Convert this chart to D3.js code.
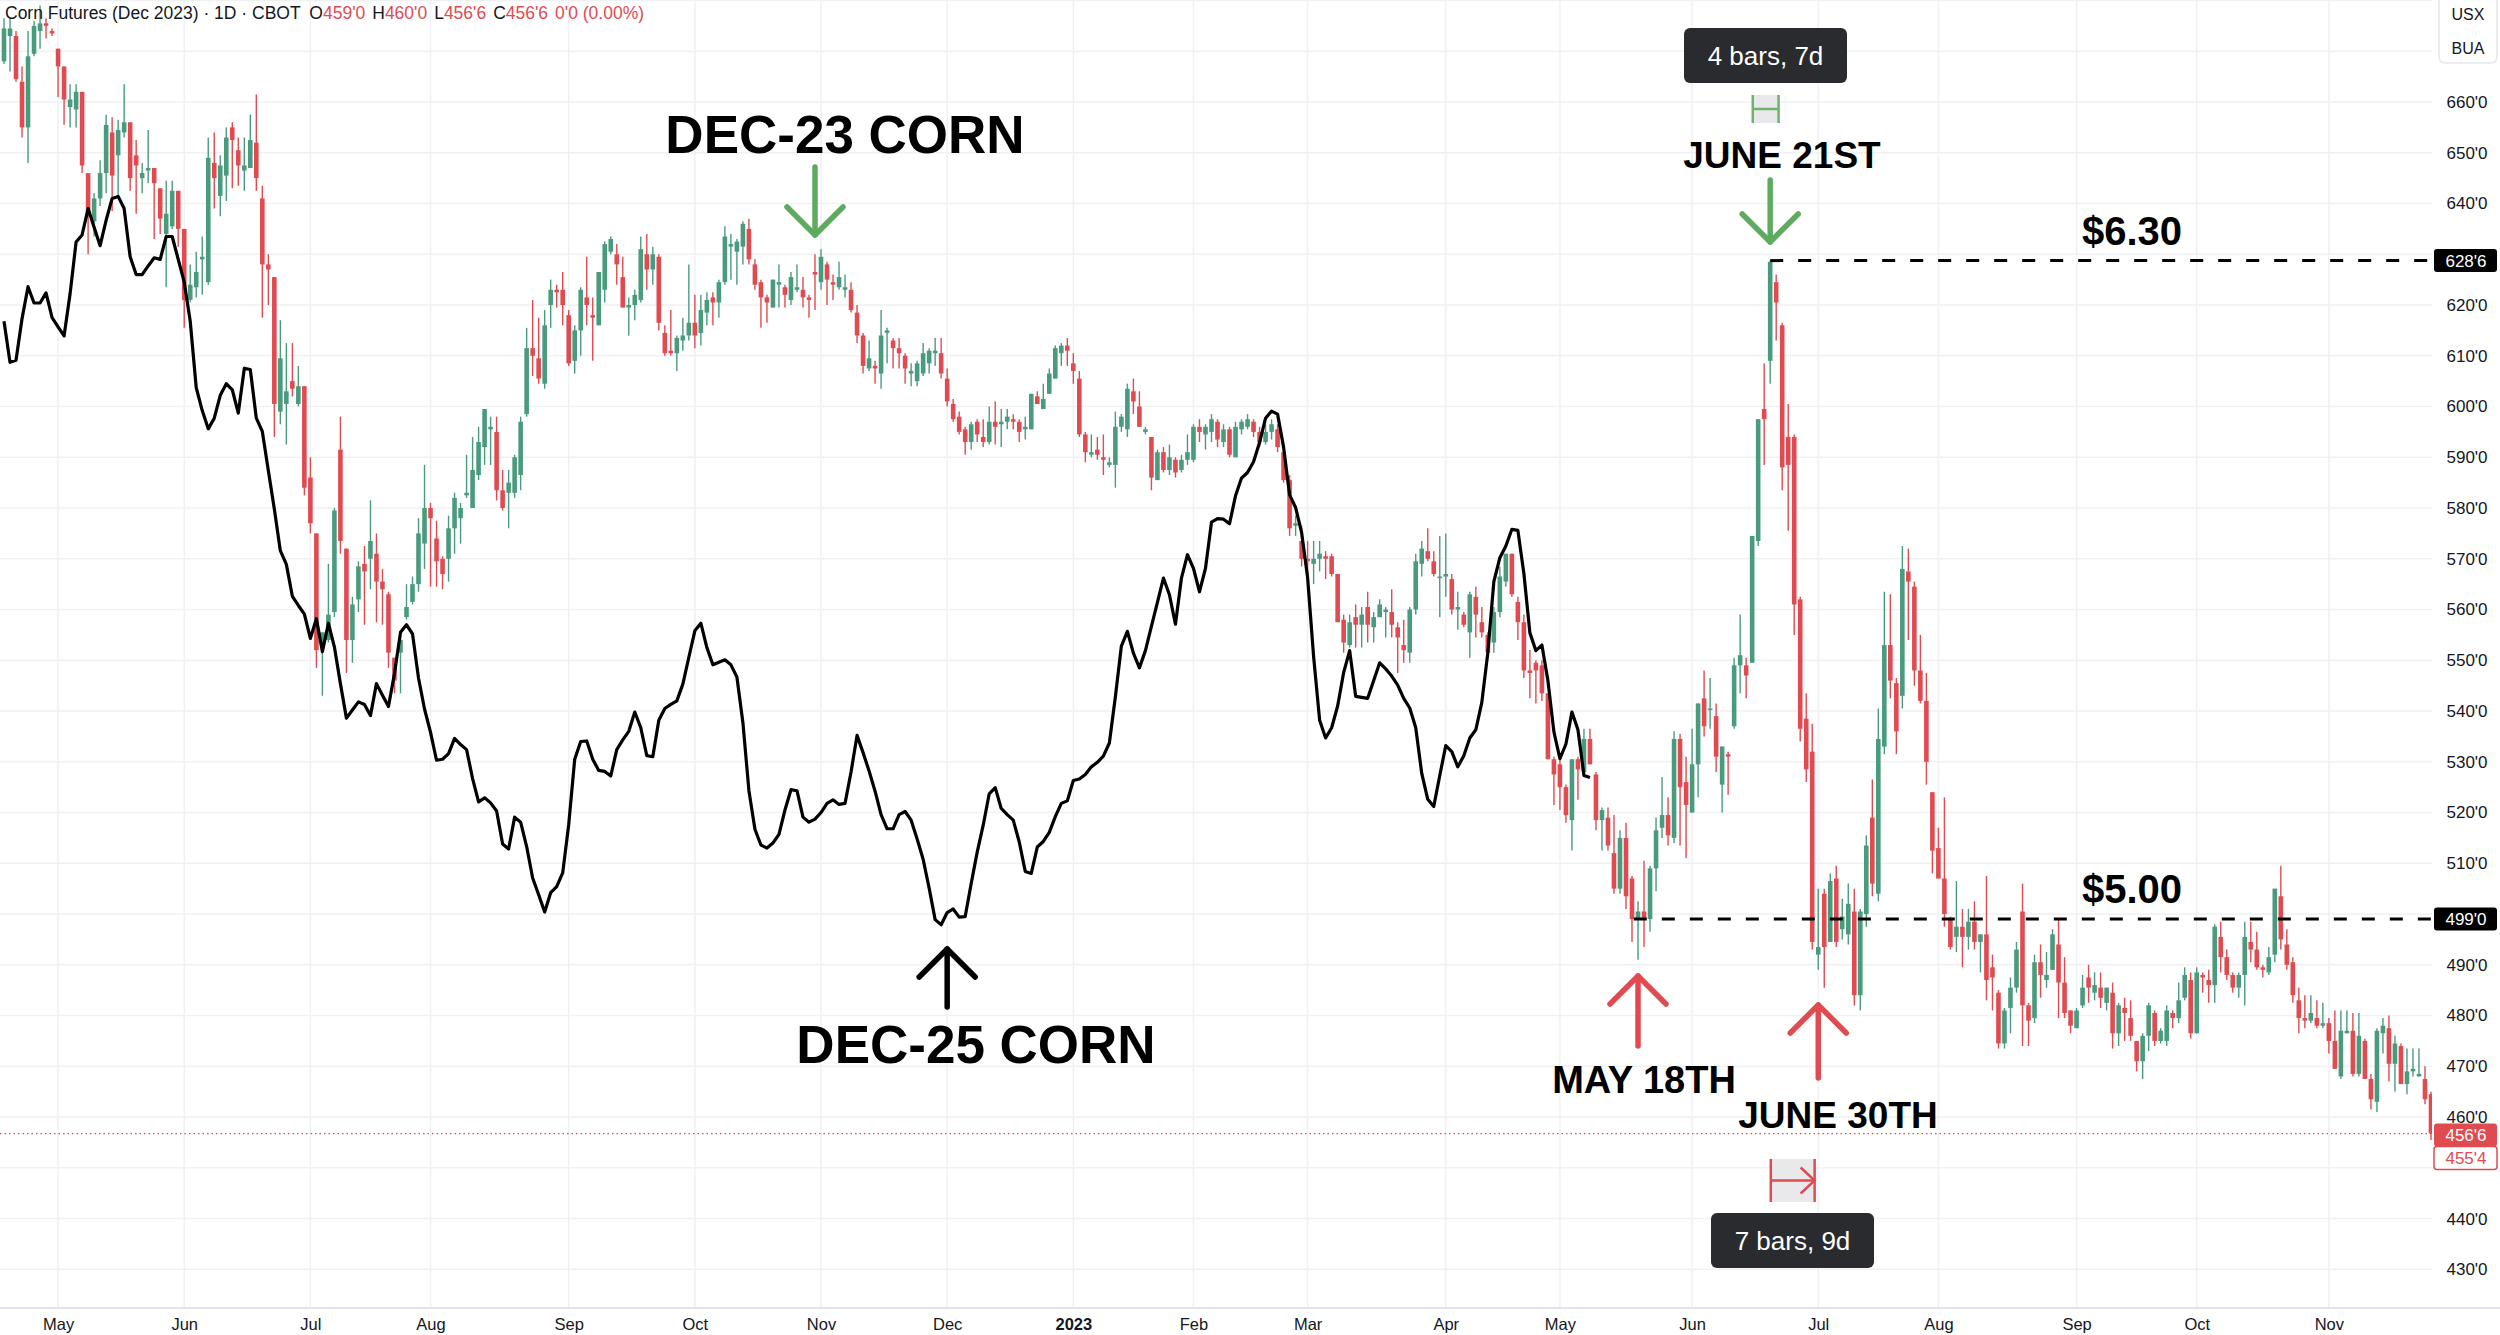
<!DOCTYPE html>
<html lang="en">
<head>
<meta charset="utf-8">
<script src="https://cdn.jsdelivr.net/npm/d3@7"></script>
<title>Corn Futures (Dec 2023)</title>
<style>
  html, body { margin: 0; padding: 0; background: #fff; }
  svg { display: block; font-family: "Liberation Sans", Arial, sans-serif; }
</style>
</head>
<body>
<script>

var width = 2500, height = 1335;
var plotRight = 2432, plotBottom = 1308;

// first bar on screen, and exchange holidays skipped by the daily bars
var startDate = "2022-04-19";
var holidays = ["2022-05-30", "2022-06-20", "2022-07-04", "2022-09-05", "2022-11-24", "2022-12-26",
  "2023-01-02", "2023-01-16", "2023-02-20", "2023-04-07", "2023-05-29", "2023-06-19",
  "2023-07-04", "2023-09-04", "2023-11-23"];

// Dec-23 corn daily OHLC, cents/bu
var opens = [
  668,673,673,664,655,669.5,674,675.5,674,670.5, 667,659,658.5,662,646,636.5,641,646,654,649.5,
  654,656,649.5,645,646.5,647,643,634,635.5,642.5, 635,621,623.5,629,624.5,648,641.5,645.5,655,650.5,
  646.5,647,652,641,628,625.5,599,600.5,605,600.5, 604,586,575,553,554,559.5,591.5,572,554,562,
  569,570,571,565.5,563,550.5,551.5,558.5,561.5,565, 573,580,574,570,570,576,578,582.5,580,586.5,
  592,595.5,595,583.5,583,583,586.5,598.5,611.5,609.5, 604.5,620,623,623,618,609,615,621.5,618,616,
  623,630.5,630,625.5,619.5,620,621,630,627,629.5, 614.5,611,610.5,613,614,616.5,614.5,618.5,621.5,620.5,
  624.5,631.5,630.5,631.5,635,628,624.5,621.5,619.5,624, 623.5,621,623,623,621.5,626.5,624.5,628,624.5,623.5,
  623,623,618.5,614,607.5,608,606.5,614.5,613,611.5, 610,606.5,605,606.5,608.5,610.5,610.5,605.5,600.5,598,
  595.5,593,597,594,593,597,596.5,597,597.5,597, 595.5,595.5,602,599.5,602.5,605.5,610.5,612,608.5,605.5,
  594.5,590.5,591.5,590,588.5,588.5,596,595.5,603,600, 595,594,585.5,591,587.5,589.5,587.5,589.5,589.5,596,
  594.5,595,597,593,595.5,590,595.5,596,597,595, 593,595,595.5,591,585.5,576.5,573.5,570,569,570,
  570.5,570.5,567,558,553,558.5,557,560.5,556.5,558.5, 559.5,559.5,556.5,553,551.5,560,569,571.5,569.5,566.5,
  566.5,566,560,559,555.5,562.5,557.5,555,553.5,559.5, 565.5,571,561.5,557.5,548,549.5,549,543.5,530.5,529.5,
  525,518.5,530.5,528,534.5,527.5,518.5,519,512,505, 515,507,499,500.5,499,509,517,519.5,515,534.5,
  526,520,529.5,542.5,540.5,539,525.5,531.5,537,549, 549,549.5,573.5,599.5,609,624.5,616,594,594,562,
  538.5,532,492,504,494.5,507,497,496,500.5,484, 500,519,504,533,553,545.5,543,567.5,564.5,548,
  542,524,513,507,499,495.5,497.5,495.5,498.5,494.5, 496,489.5,484.5,474.5,481.5,485.5,500.5,482,479.5,490.5,
  487,489,494,486.5,481,477.5,482,487.5,484.5,485.5, 482.5,484.5,476.5,481.5,479.5,475,471,476,480.5,475,
  475,480.5,479.5,483.5,487,476.5,488,487,486,495.5, 491.5,488,485.5,488,494.5,493,489.5,488.5,492,503.5,
  494,490.5,483,479.5,479,479.5,478,478.5,475,468, 476.5,477,468.5,475,467.5,463,476.5,477.5,470.5,474,
  466.5,469,468,467.5,464.5
];
var highs = [
  676.5,676.5,674,667,674,676,679,676.5,674.5,670.5, 667,663.5,663.5,662,646,642,648.5,657.5,657,656.5,
  663.5,656,652.5,648,654.5,647,643,644.5,644.5,642.5, 635,628,630.5,633.5,653,654,649.5,655,656,653,
  653,657.5,661.5,643.5,630,625.5,617,612.5,612.5,608, 604,590,575,555.5,569,580,598,572,562.5,569.5,
  572.5,581.5,575,568,563.5,550.5,555.5,565,566.5,578, 588.5,581,577.5,570.5,578.5,583,581,590.5,594,596,
  599.5,598,598,587.5,587.5,590.5,598,615.5,621,617.5, 619,625,624,626.5,619,616,623.5,629.5,621.5,626.5,
  632.5,633.5,632,629.5,621.5,623,633.5,634,631.5,630, 616,619,614,617.5,628,622,622,622.5,622.5,625,
  635.5,634,633,636.5,637,629,625,622,625,628, 624,626.5,628,625.5,622,630,631,628.5,626,628.5,
  626,624.5,620,614.5,613,609,619,615.5,613.5,613.5, 610.5,608.5,609,612.5,611.5,613.5,613.5,607.5,601.5,599,
  596,597,597.5,597.5,600,601,599.5,599.5,598.5,597.5, 598,602.5,603,604.5,607.5,612,612.5,613.5,610.5,607,
  595,594.5,594,594.5,590,599,598.5,604.5,605.5,603, 596,594,591.5,592,592.5,590,590.5,594.5,596.5,597.5,
  596.5,598.5,597.5,596.5,596,597,597.5,598.5,597.5,596, 596.5,597.5,596.5,591.5,586.5,578.5,576.5,573.5,573.5,573.5,
  571.5,571,567,559,559,561,560.5,563.5,559.5,562, 560.5,564,557.5,558,560.5,571,573.5,576,571.5,574.5,
  575,567,563.5,559.5,563.5,564.5,560.5,555.5,560.5,568.5, 571,571,562.5,559,552,550,550,543.5,531,530.5,
  525.5,530.5,531,536.5,536.5,528,521,521,519.5,516.5, 518,507.5,502.5,510.5,509.5,519,527,523,536,535.5,
  531,536.5,541.5,548,546.5,541.5,533,532,550.5,559, 550.5,574.5,597.5,608.5,628.75,626,616.5,600.5,594.5,562.5,
  543.5,537.5,505,505,508,509.5,503,506,505,501, 515.5,526.5,540.5,563.5,563,546.5,572.5,572,565.5,555,
  547.5,524,517,523,499.5,506.5,501,501,502.5,496, 507.5,492,485,481.5,487.5,494.5,506,482.5,492,494,
  492.5,497,499,491.5,481,481.5,488,490,488.5,488.5, 485.5,486.5,482.5,483.5,483,475,476.5,482.5,481,477.5,
  482,481,486.5,489.5,488.5,489.5,488.5,489,498,498.5, 493,488.5,488.5,498.5,498.5,496.5,490,493.5,505,509.5,
  497,491.5,485.5,484,484,483,482.5,479.5,481,481, 481,480.5,480.5,475.5,468.5,477.5,479.5,480,476,474.5,
  473.5,473.5,473.5,470,465
];
var lows = [
  667.5,666,664,653,648,669,670.5,672.5,673,661, 655.5,655,655,646,630,633.5,639.5,642,638.5,641,
  653,642.5,638,642,644,633,634,623.5,635,631.5, 615.5,620.5,621.5,622,624,639,637.5,640.5,643,643.5,
  642.5,647,642.5,617.5,620,594,596.5,592.5,602,600, 582.5,575,548.5,543,553.5,558.5,571,547.5,549.5,559.5,
  557,564,557.5,557,548.5,543.5,543.5,558,561,563.5, 568,564.5,564.5,564,565.5,571,573,582,580,585.5,
  588.5,588.5,581.5,579.5,576,582,583.5,598,606,604.5, 603.5,615.5,619.5,616,608,606.5,610,616,609,616,
  620.5,630,624,619.5,614,617,620.5,623,624,615, 610,610,607,611,613,611.5,612,616,616,617.5,
  624,625,624,628,628,623,615.5,616.5,619.5,619.5, 619.5,620,622.5,619.5,617.5,619,623,620,621,623,
  621.5,618.5,612.5,606.5,607,604.5,603.5,608.5,607.5,607.5, 604.5,604,604,606,606.5,608,605.5,600,597,594.5,
  590.5,591.5,593,592,592.5,592.5,592,595.5,595.5,593, 593.5,595.5,600.5,599.5,602.5,605.5,608,608,604.5,594,
  589,590,589.5,586.5,588,584,595,594,598.5,596, 594.5,583.5,585.5,587,586.5,586,587,588.5,589,593,
  591.5,593,592,592,590,590,594.5,595.5,594,592, 592.5,593.5,591,585,574.5,574.5,568.5,565.5,565,567.5,
  566,566.5,557.5,551.5,552.5,552.5,552.5,553.5,553.5,558.5, 554.5,554.5,547.5,549.5,549.5,559,566.5,569.5,566.5,558.5,
  562.5,559,556,556.5,550.5,554.5,554.5,550.5,551.5,558.5, 564.5,562.5,554,546.5,542.5,541.5,542,530.5,521.5,520.5,
  518,512.5,522.5,528,529.5,516.5,512.5,512.5,504,504, 501,494.5,491,493.5,496.5,504.5,515,513.5,514,513.5,
  511,520,523,535,536.5,528,520,523.5,536.5,543.5, 542.5,549.5,572.5,588.5,604.5,613,583.5,575.5,555,534,
  526,493,489,485.5,494.5,493.5,495,494,482,481, 497.5,503.5,502.5,531.5,542.5,531.5,540.5,554,545,541.5,
  525.5,508,507,497.5,493,492.5,489.5,493,493,488.5, 483,481,473.5,473.5,476.5,484.5,474,474,478.5,483.5,
  485.5,489,479.5,479.5,476.5,477.5,481.5,482.5,483,481.5, 481,473.5,474,475,475,469,467.5,473,474,474.5,
  474,477.5,478.5,483,475.5,476.5,484.5,482.5,482.5,488.5, 487,484.5,483.5,482,490.5,489,487.5,488,490.5,493,
  489,482.5,476.5,477.5,478.5,477.5,477.5,472.5,469.5,467.5, 476.5,468,468,467.5,461.5,461,472.5,467,465,466.5,
  464.5,468,468,462.5,455.5
];
var closes = [
  674.5,674.5,664.5,655,669,675,675.5,675,673.5,667, 660.5,660.5,662,647.5,637.5,641,646,655.5,645.5,654.5,
  656,645,647.5,646,647,644,637,638,642.5,635, 621,624,626.5,629.5,649,645,647.5,653,652.5,647.5,
  647.5,652.5,645,628,627,600.5,609.5,603,603.5,604, 584,577,552,555.5,559,579.5,573.5,554,561,568.5,
  567.5,573.5,565.5,564,551.5,546,554,560.5,565,575, 580,578,569.5,567,576,582,580,583,587.5,593,
  599.5,596,583.5,580,585,590,597,611.5,610,605.5, 616,623,622.5,620,608.5,615,623,620,617.5,626.5,
  632,633,628,619.5,620,622,631,627,630,616.5, 610.5,610.5,613.5,614,616.5,614,619,621,620.5,624.5,
  633.5,632,632.5,636,629,624,621.5,620.5,625,624.5, 622,625.5,623.5,621.5,621,626,629.5,625,624,625.5,
  623.5,619,614,608,609.5,607.5,614,615,611.5,610.5, 607.5,607,608.5,610.5,611,611,606.5,601,597.5,595,
  593,596.5,594.5,593,597,596,597,598,597,595, 596,602.5,600.5,601.5,606.5,611.5,612,611,607,594.5,
  591,591,590.5,589.5,589,596,598,603.5,601,596, 595.5,586,591,587.5,590,587,589.5,591,596,595,
  596,597.5,593.5,595.5,590.5,596,597,597.5,595,593, 595,596.5,592,585.5,576,577,570,569.5,570,571,
  570,567,557.5,553.5,557.5,557,559,557,558.5,561, 560,557,554.5,552,560,569.5,572,570,567,566.5,
  567,560,560.5,557,563,559,555.5,551.5,559.5,566.5, 571,563,557.5,548,547.5,548,543.5,530.5,527.5,525,
  519.5,530.5,528.5,534.5,529.5,518.5,520.5,513.5,505,515, 503.5,499,500.5,499,509,516.5,519.5,515.5,534.5,525,
  521.5,529.5,541.5,537,540.5,531,533,531,549,551, 547,574.5,597.5,597.5,628.5,620.5,588,588.5,561,536.5,
  528.5,494.5,493.5,493.5,506.5,494.5,499.5,502,484,500.5, 513.5,506,534.5,553,546,536,568,565.5,548,542,
  530,512.5,507,500,493.5,497.5,495.5,498.5,494.5,496, 487,487.5,474.5,481,485.5,493,482,479,490.5,488,
  488,496,486.5,480.5,478,481,485.5,485.5,486,483.5, 485.5,476.5,482,480.5,476,471,476,482,475,477,
  481,479.5,483,488,476.5,488.5,487.5,486,497.5,491.5, 488,485.5,488,495.5,493,489.5,489,491.5,505,495,
  490,484,479.5,479,480.5,478,478.5,475,469.5,477, 477,468.5,476,467.5,463.5,477,478,470.5,474.5,466.5,
  469,469.5,468.5,463.5,456.75
];

// Dec-25 corn overlay line (plotted on the same price scale as in the picture), one value per bar
var dec25 = [
  616.8,608.7,609.1,617.3,623.6,620.4,620.4,622.4,617.5,615.7, 613.9,622.2,632.4,633.8,639,635.3,631.7,636.7,641,641.4,
  639,629.5,626,626,627.7,629.3,629,633.5,633.5,629, 624.5,616.8,603.7,599.2,595.6,597.7,602.2,604.5,603.3,598.7,
  607.5,607.3,597.7,595.1,587.4,579.8,571.6,568.9,562.6,560.8, 559.1,554.3,558.2,551.7,557.3,552.6,545.4,538.6,540.2,541.8,
  541.3,539.1,545.4,543.1,540.9,547.4,555.5,557,555.2,546.5, 540.4,535.8,530.3,530.5,531.6,534.6,533.4,532.4,526.7,522.1,
  522.9,521.9,520.3,513.8,512.8,519.1,518.1,513.3,507.1,503.8, 500.4,504.2,505.4,508.1,517.6,530.5,534,534.1,530.5,528.3,
  528.1,527.2,532.4,534.3,536,539.8,536.7,531.2,531,538.2, 540.5,541.3,542,545.3,550.6,555.8,557.3,552.5,549.1,549.6,
  550.1,549.1,546.7,537.7,524.3,516.7,513.6,513,514,515.7, 520.5,524.5,524.3,519.1,518.1,518.7,520,521.8,522.5,521.6,
  521.8,528,535.2,531.8,528.2,524.2,519.6,516.8,516.8,519.6, 520.2,518.5,514.8,510.8,505.1,498.9,497.9,500.3,501,499.4,
  499.5,506,512.2,517.5,523.7,524.9,520.8,519.6,518.5,514.2, 508.4,508,513.2,514.3,516.1,519.2,521.8,522.3,526.3,526.6,
  527.5,529,529.9,531.1,533.7,542.8,552.8,555.7,551.4,548.5, 551.9,556.7,561.4,566.2,562.9,557.1,566.2,570.8,568.1,563.5,
  568.1,577.2,577.9,577.8,576.9,582.4,585.9,587,589.1,592.9, 597.7,599.1,598.5,592,582.6,580.1,575.2,566.3,550.7,538.2,
  534.7,536.7,541,547.6,551.9,542.9,542.7,542.5,546,549.5, 548.3,546.9,545.1,542.5,540.6,536.7,527.7,522.6,521.2,527.3,
  533.2,532,529,531.2,534.7,536.3,541.7,551.5,565.5,570.2, 572.5,575.8,575.6,567.1,555.4,551.9,553,546,535.9,530.6,
  533.5,539.8,536.3,527.3,526.9
];

var gridPrices = d3.range(430, 681, 10);
var levels = [628.75, 499];
var lastPrice = 456.75, lastLow = 455.5;

var upColor = "#4a9b7e", downColor = "#e04b51", greenArrow = "#5eab5f";

// trading calendar
var parse = d3.utcParse("%Y-%m-%d"), fmtDay = d3.utcFormat("%Y-%m-%d");
var dates = [];
var day = parse(startDate);
while (dates.length < closes.length) {
  var wd = day.getUTCDay();
  if (wd !== 0 && wd !== 6 && holidays.indexOf(fmtDay(day)) < 0) dates.push(day);
  day = d3.utcDay.offset(day, 1);
}
var monthTicks = [];
for (var i = 1; i < dates.length; i++) {
  if (dates[i].getUTCMonth() !== dates[i - 1].getUTCMonth()) monthTicks.push(i);
}
function monthLabel(i) {
  return dates[i].getUTCMonth() === 0 ? d3.utcFormat("%Y")(dates[i]) : d3.utcFormat("%b")(dates[i]);
}
function priceFmt(p) {
  var whole = Math.floor(p), eighths = Math.round((p - whole) * 8);
  return whole + "'" + eighths;
}

var x = d3.scaleLinear().domain([0, closes.length - 1]).range([4, 2431]);
var y = d3.scaleLinear().domain([430, 660]).range([1269.3, 102]);

// axis labels that sit under the coloured price boxes are not shown
var boxPrices = [levels[0], levels[1], lastPrice, lastLow - 3.5];
var priceLabels = d3.range(430, 661, 10).filter(function (p) {
  return boxPrices.every(function (b) { return Math.abs(y(p) - y(b)) > 16; });
});

var svg = d3.select("body").append("svg")
  .attr("width", width)
  .attr("height", height);

svg.append("rect").attr("width", width).attr("height", height).attr("fill", "#fff");

svg.append("clipPath").attr("id", "plot")
  .append("rect").attr("x", 0).attr("y", 0).attr("width", plotRight).attr("height", plotBottom);

// grid
var grid = svg.append("g").attr("clip-path", "url(#plot)");
grid.selectAll(".hg").data(gridPrices).enter().append("line")
  .attr("x1", 0).attr("x2", plotRight)
  .attr("y1", function (p) { return y(p); }).attr("y2", function (p) { return y(p); })
  .attr("stroke", "#f0f1f4").attr("stroke-width", 1.5);
grid.selectAll(".vg").data(monthTicks).enter().append("line")
  .attr("x1", function (i) { return x(i); }).attr("x2", function (i) { return x(i); })
  .attr("y1", 0).attr("y2", plotBottom)
  .attr("stroke", "#f0f1f4").attr("stroke-width", 1.5);

// last price dotted line
svg.append("line")
  .attr("x1", 0).attr("x2", plotRight)
  .attr("y1", y(lastPrice)).attr("y2", y(lastPrice))
  .attr("stroke", downColor).attr("stroke-width", 1.3).attr("stroke-dasharray", "1.5 3");

// candles
var bars = d3.range(closes.length);
var plot = svg.append("g").attr("clip-path", "url(#plot)");
var candle = plot.selectAll(".candle").data(bars).enter().append("g");
candle.append("line")
  .attr("x1", function (i) { return x(i); }).attr("x2", function (i) { return x(i); })
  .attr("y1", function (i) { return y(highs[i]); }).attr("y2", function (i) { return y(lows[i]); })
  .attr("stroke", function (i) { return closes[i] >= opens[i] ? upColor : downColor; })
  .attr("stroke-width", 1.4);
candle.append("rect")
  .attr("x", function (i) { return x(i) - 2.3; })
  .attr("width", 4.6)
  .attr("y", function (i) { return y(Math.max(opens[i], closes[i])); })
  .attr("height", function (i) { return Math.max(1.6, Math.abs(y(opens[i]) - y(closes[i]))); })
  .attr("fill", function (i) { return closes[i] >= opens[i] ? upColor : downColor; });

// Dec-25 line
var line = d3.line()
  .x(function (v, i) { return x(i); })
  .y(function (v) { return y(v); });
plot.append("path").datum(dec25)
  .attr("d", line)
  .attr("fill", "none")
  .attr("stroke", "#000")
  .attr("stroke-width", 3.2)
  .attr("stroke-linejoin", "round");

// horizontal levels
plot.append("line")
  .attr("x1", x(294)).attr("x2", plotRight)
  .attr("y1", y(levels[0])).attr("y2", y(levels[0]))
  .attr("stroke", "#000").attr("stroke-width", 3).attr("stroke-dasharray", "13 15");
plot.append("line")
  .attr("x1", x(271.3)).attr("x2", plotRight)
  .attr("y1", y(levels[1])).attr("y2", y(levels[1]))
  .attr("stroke", "#000").attr("stroke-width", 3).attr("stroke-dasharray", "13 15");

// bottom axis
svg.append("line").attr("x1", 0).attr("x2", width)
  .attr("y1", plotBottom).attr("y2", plotBottom)
  .attr("stroke", "#e0e3eb").attr("stroke-width", 2);
var xAxis = d3.axisBottom(x).tickValues(monthTicks).tickFormat(monthLabel).tickSize(0);
var gx = svg.append("g").attr("transform", "translate(0," + plotBottom + ")").call(xAxis);
gx.select(".domain").remove();
gx.selectAll("text")
  .attr("y", 22).attr("dy", 0)
  .attr("font-size", 16.5)
  .attr("font-family", "'Liberation Sans', Arial, sans-serif")
  .attr("fill", "#131722")
  .attr("font-weight", function (i) { return dates[i].getUTCMonth() === 0 ? 700 : 400; });

// right price axis
var yAxis = d3.axisRight(y).tickValues(priceLabels).tickFormat(function (p) { return p + "'0"; }).tickSize(0);
var gy = svg.append("g").attr("transform", "translate(2467,0)").call(yAxis);
gy.select(".domain").remove();
gy.selectAll("text")
  .attr("x", 0).attr("text-anchor", "middle")
  .attr("font-size", 17)
  .attr("font-family", "'Liberation Sans', Arial, sans-serif")
  .attr("fill", "#131722");

// price boxes on the axis
function priceBox(p, label, fill, stroke, color, yOff) {
  var cy = y(p) + (yOff || 0);
  svg.append("rect")
    .attr("x", 2434).attr("y", cy - 11.5).attr("width", 63).attr("height", 23).attr("rx", 3)
    .attr("fill", fill).attr("stroke", stroke || "none").attr("stroke-width", 1.5);
  svg.append("text").attr("x", 2466).attr("y", cy + 6).attr("text-anchor", "middle")
    .attr("font-size", 17).attr("fill", color).text(label);
}
priceBox(levels[0], priceFmt(levels[0]), "#000", null, "#fff");
priceBox(levels[1], priceFmt(levels[1]), "#000", null, "#fff");
priceBox(lastPrice, priceFmt(lastPrice), downColor, null, "#fff", 1.5);
priceBox(lastLow, priceFmt(lastLow), "#fff", downColor, downColor, 18);

// currency box top right
svg.append("path")
  .attr("d", "M2439,0 V56 Q2439,63 2446,63 H2490 Q2497,63 2497,56 V0")
  .attr("fill", "#fff").attr("stroke", "#e6e8ee").attr("stroke-width", 1.5);
svg.append("text").attr("x", 2468).attr("y", 20).attr("text-anchor", "middle")
  .attr("font-size", 16).attr("fill", "#131722").text("USX");
svg.append("text").attr("x", 2468).attr("y", 54).attr("text-anchor", "middle")
  .attr("font-size", 16).attr("fill", "#131722").text("BUA");

// legend line
var legend = svg.append("text").attr("x", 5).attr("y", 19).attr("font-size", 17.5).attr("fill", "#131722");
legend.append("tspan").text("Corn Futures (Dec 2023) \u00b7 1D \u00b7 CBOT");
[["O", "459'0"], ["H", "460'0"], ["L", "456'6"], ["C", "456'6"]].forEach(function (d, k) {
  legend.append("tspan").attr("dx", k === 0 ? 9 : 7).text(d[0]);
  legend.append("tspan").attr("fill", downColor).text(d[1]);
});
legend.append("tspan").attr("dx", 7).attr("fill", downColor).text("0'0 (0.00%)");

// annotations
var notes = svg.append("g").attr("font-weight", 700).attr("fill", "#000").attr("text-anchor", "middle");
function note(txt, cx, base, size) {
  notes.append("text").attr("x", cx).attr("y", base).attr("font-size", size).text(txt);
}
note("DEC-23 CORN", 845, 153, 53);
note("DEC-25 CORN", 976, 1063, 53);
note("JUNE 21ST", 1782, 168, 37);
note("MAY 18TH", 1644, 1093, 38);
note("JUNE 30TH", 1838, 1128, 37);
note("$6.30", 2132, 245, 40);
note("$5.00", 2132, 903, 40);

function arrow(cx, tip, tail, color, sw) {
  var dir = tail > tip ? 1 : -1;
  var g = svg.append("g").attr("fill", "none").attr("stroke", color).attr("stroke-width", sw)
    .attr("stroke-linecap", "round").attr("stroke-linejoin", "round");
  g.append("line").attr("x1", cx).attr("x2", cx).attr("y1", tail).attr("y2", tip);
  g.append("path").attr("d", "M" + (cx - 28) + "," + (tip + dir * 28) + " L" + cx + "," + tip + " L" + (cx + 28) + "," + (tip + dir * 28));
}
arrow(x(135), 235, 167, greenArrow, 5.5);
arrow(x(294), 242, 180, greenArrow, 5.5);
arrow(x(157), 949, 1007, "#000", 5.5);
arrow(x(272), 976, 1046, downColor, 5.5);
arrow(x(302), 1005, 1078, downColor, 5.5);

// date range measures
function measure(x1, x2, yTop, yBot, color, label, bx, by, bw, bh, pointer) {
  var ym = (yTop + yBot) / 2;
  svg.append("rect").attr("x", x1).attr("y", yTop).attr("width", x2 - x1).attr("height", yBot - yTop)
    .attr("fill", "#e9e9ec");
  var g = svg.append("g").attr("stroke", color).attr("stroke-width", 2.5).attr("fill", "none");
  g.append("line").attr("x1", x1).attr("x2", x1).attr("y1", yTop).attr("y2", yBot);
  g.append("line").attr("x1", x2).attr("x2", x2).attr("y1", yTop).attr("y2", yBot);
  g.append("line").attr("x1", x1).attr("x2", x2).attr("y1", ym).attr("y2", ym);
  if (pointer) g.append("path").attr("d", "M" + (x2 - 14) + "," + (ym - 13) + " L" + x2 + "," + ym + " L" + (x2 - 14) + "," + (ym + 13));
  svg.append("rect").attr("x", bx).attr("y", by).attr("width", bw).attr("height", bh).attr("rx", 6)
    .attr("fill", "#2a2b2f");
  svg.append("text").attr("x", bx + bw / 2).attr("y", by + bh / 2 + 9).attr("text-anchor", "middle")
    .attr("font-size", 26).attr("fill", "#fff").text(label);
}
measure(x(291.1), x(295.4), 95, 123, "#6db36f", "4 bars, 7d", 1684, 28, 163, 55, false);
measure(x(294.1), x(301.4), 1159, 1202, downColor, "7 bars, 9d", 1711, 1213, 163, 55, true);

</script>
</body>
</html>
